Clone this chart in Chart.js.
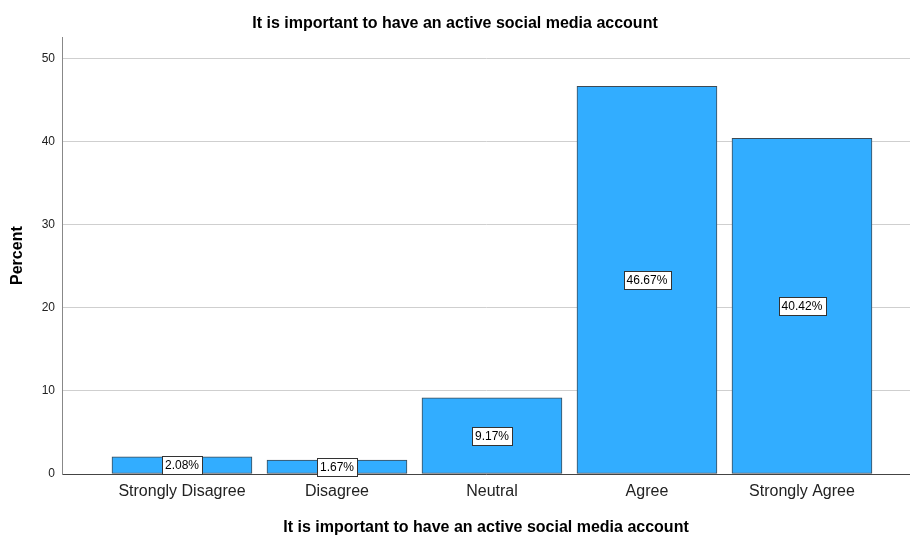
<!DOCTYPE html>
<html>
<head>
<meta charset="utf-8">
<script src="https://cdn.jsdelivr.net/npm/chart.js"></script>
<style>
  body { margin: 0; background: #fff; }
</style>
</head>
<body>
<canvas id="myChart" width="910" height="535"></canvas>
<script>
const categories = ['Strongly Disagree', 'Disagree', 'Neutral', 'Agree', 'Strongly Agree'];
const percents = [2.08, 1.67, 9.17, 46.67, 40.42];
const yTicks = [0, 10, 20, 30, 40, 50];
const titleText = 'It is important to have an active social media account';

const ctx = document.getElementById('myChart');

// white boxes with the percent in the middle of each bar
const boxLabels = {
  id: 'boxLabels',
  afterDatasetsDraw(chart) {
    const c = chart.ctx;
    const meta = chart.getDatasetMeta(0);
    c.save();
    c.font = '12px "Liberation Sans", Arial, sans-serif';
    c.textAlign = 'center';
    c.textBaseline = 'middle';
    meta.data.forEach((bar, i) => {
      const txt = percents[i].toFixed(2) + '%';
      const cy = (bar.y + bar.base) / 2;
      const w = c.measureText(txt).width + 6;
      const h = 18;
      const x0 = Math.round(bar.x - w / 2) + 0.5;
      const y0 = Math.round(cy - h / 2) + 0.5;
      c.fillStyle = '#fff';
      c.fillRect(x0, y0, Math.round(w), h);
      c.strokeStyle = '#333';
      c.lineWidth = 1;
      c.strokeRect(x0, y0, Math.round(w), h);
      c.fillStyle = '#000';
      c.fillText(txt, bar.x, cy + 1);
    });
    c.restore();
  }
};

new Chart(ctx, {
  type: 'bar',
  data: {
    datasets: [{
      data: percents.map((v, i) => ({ x: i, y: v })),
      backgroundColor: '#32adff',
      borderColor: '#3d4a55',
      borderWidth: 1,
      borderSkipped: false,
      barThickness: 140
    }]
  },
  options: {
    responsive: false,
    devicePixelRatio: 1,
    animation: false,
    layout: { padding: 0 },
    plugins: {
      legend: { display: false },
      tooltip: { enabled: false },
      title: {
        display: true,
        text: titleText,
        color: '#000',
        font: { family: '"Liberation Sans", Arial, sans-serif', size: 16, weight: 'bold' },
        padding: { top: 14, bottom: 4 }
      }
    },
    scales: {
      x: {
        type: 'linear',
        offset: false,
        min: -0.774,
        max: 4.697,
        afterBuildTicks: (scale) => { scale.ticks = categories.map((c, i) => ({ value: i })); },
        afterFit: (scale) => { scale.height = 61; },
        grid: { display: false, drawTicks: false, offset: false },
        border: { display: true, color: '#444', width: 1 },
        ticks: {
          autoSkip: false,
          maxRotation: 0,
          padding: 8,
          color: '#222',
          font: { family: '"Liberation Sans", Arial, sans-serif', size: 16 },
          callback: (v) => categories[v]
        },
        title: {
          display: true,
          text: titleText,
          color: '#000',
          font: { family: '"Liberation Sans", Arial, sans-serif', size: 16, weight: 'bold' },
          padding: { top: 0, bottom: -2 }
        }
      },
      y: {
        min: 0,
        max: 52.6,
        afterBuildTicks: (scale) => { scale.ticks = yTicks.map(v => ({ value: v })); },
        afterFit: (scale) => { scale.width = 62; },
        grid: { color: '#cfcfcf', drawTicks: false, lineWidth: 1 },
        border: { display: true, color: '#888', width: 1 },
        ticks: {
          padding: 7,
          color: '#222',
          font: { family: '"Liberation Sans", Arial, sans-serif', size: 12 }
        },
        title: {
          display: true,
          text: 'Percent',
          color: '#000',
          font: { family: '"Liberation Sans", Arial, sans-serif', size: 16, weight: 'bold' },
          padding: { top: 8, bottom: 0 }
        }
      }
    }
  },
  plugins: [boxLabels]
});
</script>
</body>
</html>
